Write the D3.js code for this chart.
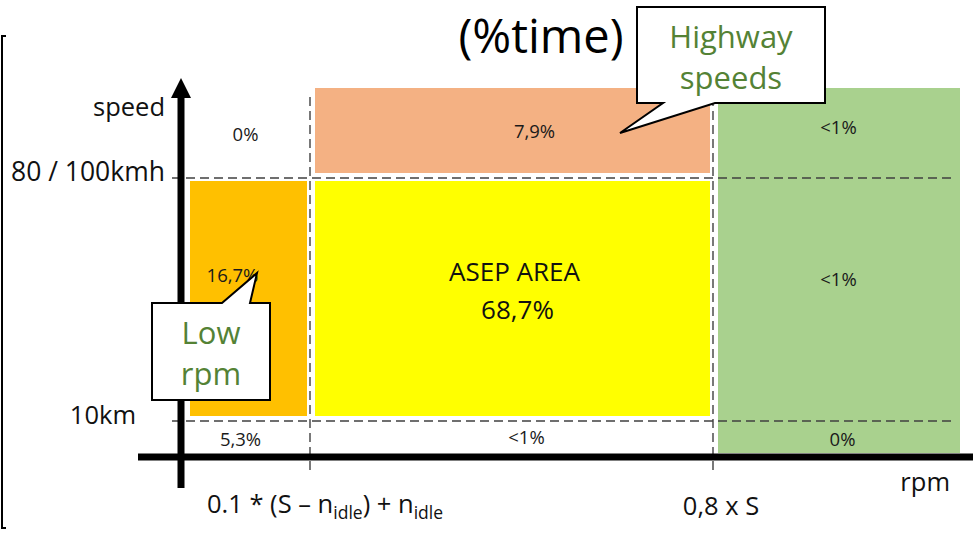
<!DOCTYPE html>
<html>
<head>
<meta charset="utf-8">
<script src="https://cdn.jsdelivr.net/npm/d3@7"></script>
<style>
  html, body { margin: 0; padding: 0; background: #ffffff; }
  svg { display: block; font-family: "Open Sans", "DejaVu Sans", sans-serif; }
</style>
</head>
<body>
<svg id="chart" width="973" height="533"></svg>
<script>
// ---------------- DATA ----------------
// rpm bands (x) boundaries: 0 = axis, 1 = 0.1*(S-nidle)+nidle, 2 = 0.8 x S, 3 = end
const rpmBoundaries = [0, 1, 2, 3];
// speed bands (y) boundaries: 0 = axis, 1 = 10km, 2 = 80/100kmh, 3 = top
const speedBoundaries = [0, 1, 2, 3];

// share of time in each rpm x speed cell
const cellRpm   = [0, 1, 2, 0, 1, 2, 0, 1, 2];
const cellSpeed = [0, 0, 0, 1, 1, 1, 2, 2, 2];
const cellLabels = ["5,3%", "<1%", "0%", "16,7%", "68,7%", "<1%", "0%", "7,9%", "<1%"];

// coloured zones
const zoneNames = ["Low rpm", "ASEP AREA", "Highway speeds", "High rpm"];
const zoneRpmFrom   = [0, 1, 1, 2];
const zoneRpmTo     = [1, 2, 2, 3];
const zoneSpeedFrom = [1, 1, 2, 0];
const zoneSpeedTo   = [2, 2, 3, 3];

// axis tick labels
const speedTickValues = [1, 2];
const speedTickLabels = ["10km", "80 / 100kmh"];
const rpmTickValues = [1, 2];
const titleText = "(%time)";

// ---------------- SCALES ----------------
const svg = d3.select("#chart");
const x = d3.scaleLinear().domain(rpmBoundaries).range([181, 310, 713, 960]);
const y = d3.scaleLinear().domain(speedBoundaries).range([457, 421, 178, 88]);
const zoneColor = d3.scaleOrdinal().domain(zoneNames)
  .range(["#FFC000", "#FFFF00", "#F4B183", "#A9D18E"]);

// layout nudges for cell labels (presentation only)
const labelNudge = {
  "0-0": [-5, 1], "1-0": [15, -1], "2-0": [6, 1],
  "0-1": [-13, -24], "2-1": [2, -20],
  "0-2": [0, 2], "1-2": [23, -1], "2-2": [2, -5]
};

// ---------------- LEFT BORDER ----------------
svg.append("path")
  .attr("d", "M6,36 H2 V528 H6")
  .attr("fill", "none").attr("stroke", "#000").attr("stroke-width", 2);

// ---------------- TITLE ----------------
svg.append("text")
  .attr("x", 541).attr("y", 53)
  .attr("text-anchor", "middle")
  .attr("font-size", 47)
  .attr("fill", "#000")
  .text(titleText);

// ---------------- ZONES ----------------
const zones = zoneNames.map((n, i) => ({
  name: n, r0: zoneRpmFrom[i], r1: zoneRpmTo[i], s0: zoneSpeedFrom[i], s1: zoneSpeedTo[i]
}));
svg.append("g").selectAll("rect").data(zones).join("rect")
  .attr("x", d => x(d.r0) + (d.r0 === 0 ? 9 : 5))
  .attr("y", d => y(d.s1) + (d.s1 === 3 ? 0 : 3))
  .attr("width", d => (x(d.r1) - (d.r1 === 3 ? 0 : 3)) - (x(d.r0) + (d.r0 === 0 ? 9 : 5)))
  .attr("height", d => (y(d.s0) - (d.s0 === 0 ? 4 : 5)) - (y(d.s1) + (d.s1 === 3 ? 0 : 3)))
  .attr("fill", d => zoneColor(d.name));

// ---------------- DASHED GRID ----------------
const dash = "9,5";
svg.append("g").selectAll("line").data(speedTickValues).join("line")
  .attr("x1", 172).attr("x2", 955)
  .attr("y1", d => y(d)).attr("y2", d => y(d))
  .attr("stroke", "#404040").attr("stroke-width", 1.4).attr("stroke-dasharray", dash);
svg.append("g").selectAll("line").data(rpmTickValues).join("line")
  .attr("x1", d => x(d)).attr("x2", d => x(d))
  .attr("y1", 97).attr("y2", 472)
  .attr("stroke", "#404040").attr("stroke-width", 1.4).attr("stroke-dasharray", dash);

// ---------------- CELL LABELS ----------------
const cells = cellLabels.map((l, i) => ({ label: l, r: cellRpm[i], s: cellSpeed[i] }));
const cellG = svg.append("g").attr("fill", "#1a1a1a");
cells.forEach(c => {
  const cx = (x(c.r) + x(c.r + 1)) / 2;
  const cy = (y(c.s) + y(c.s + 1)) / 2;
  if (c.r === 1 && c.s === 1) {
    const t = cellG.append("text").attr("text-anchor", "middle").attr("font-size", 26).attr("fill", "#111");
    t.append("tspan").attr("x", cx + 3).attr("y", cy - 19).text("ASEP AREA");
    t.append("tspan").attr("x", cx + 6).attr("y", cy + 19).text(c.label);
    return;
  }
  const nd = labelNudge[c.r + "-" + c.s] || [0, 0];
  cellG.append("text")
    .attr("x", cx + nd[0]).attr("y", cy + 6 + nd[1])
    .attr("text-anchor", "middle").attr("font-size", 18.5)
    .text(c.label);
});

// ---------------- AXES ----------------
// x axis
svg.append("line")
  .attr("x1", 138).attr("x2", 973).attr("y1", y(0)).attr("y2", y(0))
  .attr("stroke", "#000").attr("stroke-width", 7);
// y axis with arrow
svg.append("line")
  .attr("x1", x(0)).attr("x2", x(0)).attr("y1", 96).attr("y2", 488)
  .attr("stroke", "#000").attr("stroke-width", 7);
svg.append("path")
  .attr("d", `M${x(0) - 10},98 L${x(0)},78 L${x(0) + 10},98 Z`)
  .attr("fill", "#000");

// speed axis labels
const axisFont = 25.5;
svg.append("text").attr("x", 165).attr("y", 116).attr("text-anchor", "end")
  .attr("font-size", axisFont).attr("fill", "#111").text("speed");
svg.append("g").selectAll("text").data(speedTickValues).join("text")
  .attr("x", (d, i) => i === 0 ? 136 : 165)
  .attr("y", d => y(d) + 3)
  .attr("text-anchor", "end").attr("font-size", (d, i) => i === 0 ? axisFont : 26.5).attr("fill", "#111")
  .text((d, i) => speedTickLabels[i]);

// rpm axis labels
svg.append("text").attr("x", 950).attr("y", 491).attr("text-anchor", "end")
  .attr("font-size", axisFont).attr("fill", "#111").text("rpm");
const lab1 = svg.append("text").attr("x", x(1) + 15).attr("y", 513)
  .attr("text-anchor", "middle").attr("font-size", axisFont).attr("fill", "#111");
lab1.append("tspan").text("0.1 * (S \u2013 n");
lab1.append("tspan").attr("font-size", 17.5).attr("dy", 6).text("idle");
lab1.append("tspan").attr("dy", -6).text(") + n");
lab1.append("tspan").attr("font-size", 17.5).attr("dy", 6).text("idle");
svg.append("text").attr("x", x(2) + 8).attr("y", 515).attr("text-anchor", "middle")
  .attr("font-size", axisFont).attr("fill", "#111").text("0,8 x S");

// ---------------- CALLOUTS ----------------
function callout(bx, by, bw, bh, base1, base2, tip, onTop, lines) {
  let d;
  if (onTop) {
    d = `M${bx},${by} H${base1} L${tip[0]},${tip[1]} L${base2},${by} H${bx + bw} V${by + bh} H${bx} Z`;
  } else {
    d = `M${bx},${by} H${bx + bw} V${by + bh} H${base2} L${tip[0]},${tip[1]} L${base1},${by + bh} H${bx} Z`;
  }
  svg.append("path").attr("d", d).attr("fill", "#fff")
    .attr("stroke", "#000").attr("stroke-width", 2).attr("stroke-linejoin", "miter");
  const t = svg.append("text").attr("text-anchor", "middle").attr("font-size", 31).attr("fill", "#548235");
  lines.forEach((l, i) => {
    t.append("tspan").attr("x", bx + bw / 2).attr("y", by + 41 + i * 41).text(l);
  });
}
// Highway speeds: pointing to the 7,9% zone
callout(637, 7, 188, 96, 663, 715, [620, 133], false, ["Highway", "speeds"]);
// Low rpm: pointing to the 16,7% zone
callout(152, 303, 118, 97, 222, 250, [257, 273], true, ["Low", "rpm"]);
</script>
</body>
</html>
